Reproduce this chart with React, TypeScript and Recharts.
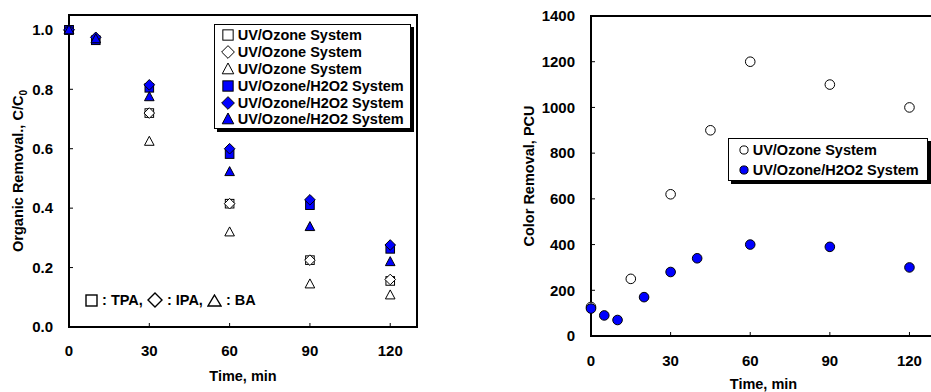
import React from "react";
import { ScatterChart, Scatter, XAxis, YAxis, ReferenceArea, Legend } from "recharts";

// left panel: organic removal, C/C0
const organicTimeUv = [0, 30, 60, 90, 120];
const organicTimeH2o2 = [0, 10, 30, 60, 90, 120];
const tpaUv = [1.0, 0.72, 0.415, 0.225, 0.155];
const ipaUv = [1.0, 0.72, 0.415, 0.225, 0.16];
const baUv = [1.0, 0.625, 0.32, 0.145, 0.108];
const tpaH2o2 = [1.0, 0.965, 0.805, 0.582, 0.41, 0.263];
const ipaH2o2 = [1.0, 0.975, 0.815, 0.6, 0.428, 0.276];
const baH2o2 = [1.0, 0.97, 0.775, 0.523, 0.338, 0.22];

// right panel: color removal, PCU
const colorTimeUv = [0, 15, 30, 45, 60, 90, 120];
const colorUv = [127, 250, 620, 900, 1200, 1100, 1000];
const colorTimeH2o2 = [0, 5, 10, 20, 30, 40, 60, 90, 120];
const colorH2o2 = [120, 90, 70, 170, 280, 340, 400, 390, 300];

const timeTicks = [0, 30, 60, 90, 120];
const organicTicks = [0, 0.2, 0.4, 0.6, 0.8, 1.0];
const colorTicks = [0, 200, 400, 600, 800, 1000, 1200, 1400];

const BLUE = "#0000ff";
const FONT = "'Liberation Sans', Arial, sans-serif";

const zip = (xs: number[], ys: number[]) => xs.map((x, i) => ({ x, y: ys[i] }));

type Kind = "square" | "diamond" | "triangle" | "circle";

function Marker({ kind, filled, cx, cy, s = 1 }: { kind: Kind; filled: boolean; cx: number; cy: number; s?: number }) {
  const fill = filled ? BLUE : "#fff";
  if (kind === "square") {
    const h = 4.3 * s;
    return <rect x={cx - h} y={cy - h} width={2 * h} height={2 * h} fill={fill} stroke="#000" strokeWidth={1} />;
  }
  if (kind === "diamond") {
    const h = 5.3 * s;
    return (
      <polygon
        points={`${cx},${cy - h} ${cx + h},${cy} ${cx},${cy + h} ${cx - h},${cy}`}
        fill={fill}
        stroke="#000"
        strokeWidth={1}
      />
    );
  }
  if (kind === "triangle") {
    const w = 4.8 * s;
    return (
      <polygon
        points={`${cx},${cy - 5 * s} ${cx + w},${cy + 4 * s} ${cx - w},${cy + 4 * s}`}
        fill={fill}
        stroke="#000"
        strokeWidth={1}
      />
    );
  }
  return <circle cx={cx} cy={cy} r={4.8 * s} fill={fill} stroke="#000" strokeWidth={1} />;
}

const leftSeries = [
  { name: "UV/Ozone System", kind: "square" as Kind, filled: false, data: zip(organicTimeUv, tpaUv) },
  { name: "UV/Ozone System", kind: "diamond" as Kind, filled: false, data: zip(organicTimeUv, ipaUv) },
  { name: "UV/Ozone System", kind: "triangle" as Kind, filled: false, data: zip(organicTimeUv, baUv) },
  { name: "UV/Ozone/H2O2 System", kind: "square" as Kind, filled: true, data: zip(organicTimeH2o2, tpaH2o2) },
  { name: "UV/Ozone/H2O2 System", kind: "diamond" as Kind, filled: true, data: zip(organicTimeH2o2, ipaH2o2) },
  { name: "UV/Ozone/H2O2 System", kind: "triangle" as Kind, filled: true, data: zip(organicTimeH2o2, baH2o2) },
];

const rightSeries = [
  { name: "UV/Ozone System", kind: "circle" as Kind, filled: false, data: zip(colorTimeUv, colorUv) },
  { name: "UV/Ozone/H2O2 System", kind: "circle" as Kind, filled: true, data: zip(colorTimeH2o2, colorH2o2) },
];

function LegendBox({ items, rowHeight, padTop, iconX, textX, width, iconScale }: any) {
  return (
    <div
      style={{
        width,
        boxSizing: "border-box",
        border: "1px solid #000",
        boxShadow: "3px 3px 0 #000",
        background: "#fff",
        paddingTop: padTop,
        fontFamily: FONT,
        fontWeight: 700,
        fontSize: 14.5,
        color: "#000",
      }}
    >
      {items.map((it: any, i: number) => (
        <div key={i} style={{ position: "relative", height: rowHeight, display: "flex", alignItems: "center", paddingLeft: textX, whiteSpace: "nowrap" }}>
          <svg width={14} height={14} style={{ position: "absolute", left: iconX - 7, top: (rowHeight - 14) / 2 }}>
            <Marker kind={it.kind} filled={it.filled} cx={7} cy={7} s={iconScale} />
          </svg>
          <span>{it.name}</span>
        </div>
      ))}
    </div>
  );
}

const tickStyle = { fill: "#000", fontSize: 15, fontWeight: 700, fontFamily: FONT };

const xTitle = (dy: number) => (props: any) => {
  const vb = props.viewBox || {};
  return (
    <text x={vb.x + vb.width / 2} y={vb.y + dy} textAnchor="middle" fontFamily={FONT} fontWeight={700} fontSize={14.5} fill="#000">
      Time, min
    </text>
  );
};

const yTitle = (x: number, text: string, sub?: string) => (props: any) => {
  const vb = props.viewBox || {};
  const cy = vb.y + vb.height / 2;
  return (
    <text
      x={x}
      y={cy}
      transform={`rotate(-90, ${x}, ${cy})`}
      textAnchor="middle"
      fontFamily={FONT}
      fontWeight={700}
      fontSize={14.5}
      fill="#000"
    >
      {text}
      {sub ? (
        <tspan fontSize={10} dy={4}>
          {sub}
        </tspan>
      ) : null}
    </text>
  );
};

function Annotation() {
  const txt: React.CSSProperties = { whiteSpace: "pre" };
  return (
    <div
      style={{
        position: "absolute",
        left: 85,
        top: 291,
        height: 18,
        display: "flex",
        alignItems: "center",
        fontFamily: FONT,
        fontWeight: 700,
        fontSize: 14.5,
        color: "#000",
      }}
    >
      <svg width={13} height={13}>
        <rect x={1} y={1} width={11} height={11} fill="#fff" stroke="#000" strokeWidth={1.4} />
      </svg>
      <span style={txt}>{" : TPA, "}</span>
      <svg width={16} height={16}>
        <polygon points="8,1 15,8 8,15 1,8" fill="#fff" stroke="#000" strokeWidth={1.4} />
      </svg>
      <span style={txt}>{" : IPA, "}</span>
      <svg width={15} height={13}>
        <polygon points="7.5,1 14,12 1,12" fill="#fff" stroke="#000" strokeWidth={1.4} />
      </svg>
      <span style={txt}>{" : BA"}</span>
    </div>
  );
}

export default function App() {
  return (
    <div style={{ position: "absolute", left: 0, top: 0, width: 931, height: 392, overflow: "hidden", background: "#fff" }}>
      <div style={{ position: "absolute", left: 0, top: 0 }}>
        <ScatterChart width={460} height={392} margin={{ top: 15, right: 43, bottom: 0, left: 0 }}>
          <XAxis
            type="number"
            dataKey="x"
            domain={[0, 130]}
            ticks={timeTicks}
            height={65}
            tickSize={-4}
            tickMargin={22}
            tick={tickStyle}
            tickLine={{ stroke: "#000" }}
            axisLine={{ stroke: "#000", strokeWidth: 2 }}
            label={xTitle(54)}
          />
          <YAxis
            type="number"
            dataKey="y"
            domain={[0, 1.05]}
            ticks={organicTicks}
            width={69}
            tickSize={-4}
            tickMargin={20}
            tick={tickStyle}
            tickFormatter={(v: number) => v.toFixed(1)}
            tickLine={{ stroke: "#000" }}
            axisLine={{ stroke: "#000", strokeWidth: 2 }}
            label={yTitle(22.7, "Organic Removal., C/C", "0")}
          />
          <ReferenceArea x1={0} x2={130} y1={0} y2={1.05} fill="none" fillOpacity={0} stroke="#000" strokeWidth={2} ifOverflow="visible" />
          {leftSeries.map((s, i) => (
            <Scatter
              key={i}
              name={s.name}
              data={s.data}
              isAnimationActive={false}
              shape={(p: any) => <Marker kind={s.kind} filled={s.filled} cx={p.cx} cy={p.cy} />}
            />
          ))}
          <Legend
            layout="vertical"
            align="center"
            verticalAlign="middle"
            wrapperStyle={{ left: 214, top: 24, width: 197 }}
            content={() => (
              <LegendBox items={leftSeries} rowHeight={16.9} padTop={1.5} iconX={12.7} textX={22.7} width={197} iconScale={1.2} />
            )}
          />
        </ScatterChart>
        <Annotation />
      </div>

      <div style={{ position: "absolute", left: 470, top: 0 }}>
        <ScatterChart width={470} height={392} margin={{ top: 16, right: 4, bottom: 0, left: 0 }}>
          <XAxis
            type="number"
            dataKey="x"
            domain={[0, 130]}
            ticks={timeTicks}
            height={56}
            tickSize={-4}
            tickMargin={23}
            tick={tickStyle}
            tickLine={{ stroke: "#000" }}
            axisLine={{ stroke: "#000", strokeWidth: 2 }}
            label={xTitle(52.7)}
          />
          <YAxis
            type="number"
            dataKey="y"
            domain={[0, 1400]}
            ticks={colorTicks}
            width={121}
            tickSize={-4}
            tickMargin={20}
            tick={tickStyle}
            tickLine={{ stroke: "#000" }}
            axisLine={{ stroke: "#000", strokeWidth: 2 }}
            label={yTitle(64, "Color Removal, PCU")}
          />
          <ReferenceArea x1={0} x2={130} y1={0} y2={1400} fill="none" fillOpacity={0} stroke="#000" strokeWidth={2} ifOverflow="visible" />
          {rightSeries.map((s, i) => (
            <Scatter
              key={i}
              name={s.name}
              data={s.data}
              isAnimationActive={false}
              shape={(p: any) => <Marker kind={s.kind} filled={s.filled} cx={p.cx} cy={p.cy} />}
            />
          ))}
          <Legend
            layout="vertical"
            align="center"
            verticalAlign="middle"
            wrapperStyle={{ left: 257.7, top: 138, width: 200 }}
            content={() => (
              <LegendBox items={rightSeries} rowHeight={19.5} padTop={1.5} iconX={15.3} textX={24} width={200} iconScale={0.85} />
            )}
          />
        </ScatterChart>
      </div>
    </div>
  );
}
